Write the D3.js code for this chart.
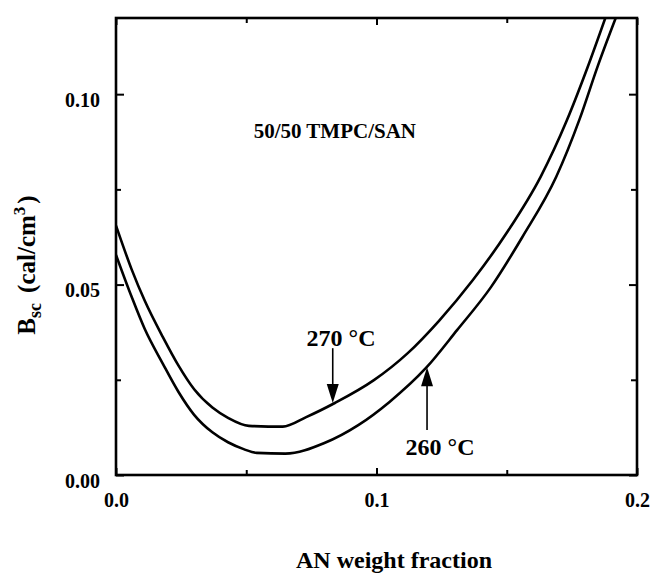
<!DOCTYPE html>
<html>
<head>
<meta charset="utf-8">
<script src="https://cdn.jsdelivr.net/npm/d3@7"></script>
<style>
    body { margin: 0; background: #fff; }
    text { font-family: "Liberation Serif", "Times New Roman", serif; font-weight: bold; fill: #000; }
</style>
</head>
<body>
<svg id="chart"></svg>
<script>
// AN weight fraction vs B_sc
var anFraction270 = [0, 0.006, 0.011, 0.018, 0.024, 0.030, 0.037, 0.043, 0.051, 0.064, 0.073, 0.084, 0.099, 0.112, 0.124, 0.137, 0.150, 0.163, 0.173, 0.181, 0.188]
var bsc270 = [0.0655, 0.0540, 0.0458, 0.0362, 0.0287, 0.0225, 0.0177, 0.0150, 0.0129, 0.0127, 0.0152, 0.0189, 0.0249, 0.0320, 0.0405, 0.0512, 0.0636, 0.0783, 0.0930, 0.1070, 0.1203]

var anFraction260 = [0, 0.006, 0.011, 0.018, 0.024, 0.030, 0.037, 0.043, 0.049, 0.054, 0.065, 0.080, 0.093, 0.105, 0.119, 0.131, 0.144, 0.156, 0.169, 0.178, 0.185, 0.192]
var bsc260 = [0.0578, 0.0468, 0.0384, 0.0292, 0.0218, 0.0158, 0.0112, 0.0086, 0.0068, 0.0058, 0.0056, 0.0084, 0.0131, 0.0192, 0.0281, 0.0381, 0.0494, 0.0625, 0.0783, 0.0935, 0.1075, 0.1203]

var xTicks = [0, 0.1, 0.2]
var xMinorTicks = [0.05, 0.15]
var yTicks = [0, 0.05, 0.10]
var yMinorTicks = [0.025, 0.075]

var svg = d3.select("#chart")

var dimensions = {
    width: 655,
    height: 573,
    margin: {
        top: 18,
        bottom: 98,
        left: 116,
        right: 18
    }
}

svg.attr("width", dimensions.width)
   .attr("height", dimensions.height)

var xScale = d3.scaleLinear()
               .domain([0, 0.2])
               .range([dimensions.margin.left, dimensions.width - dimensions.margin.right])
var yScale = d3.scaleLinear()
               .domain([0, 0.12])
               .range([dimensions.height - dimensions.margin.bottom, dimensions.margin.top])

var x0 = xScale(0), x1 = xScale(0.2), y0 = yScale(0), y1 = yScale(0.12)

svg.append("clipPath")
   .attr("id", "plot-clip")
   .append("rect")
   .attr("x", x0).attr("y", y1)
   .attr("width", x1 - x0).attr("height", y0 - y1)

var lineGen = d3.line()
                .x(d => xScale(d[0]))
                .y(d => yScale(d[1]))
                .curve(d3.curveMonotoneX)

var series = [
    d3.zip(anFraction270, bsc270),
    d3.zip(anFraction260, bsc260)
]

svg.append("g")
   .attr("clip-path", "url(#plot-clip)")
   .selectAll("path")
   .data(series)
   .enter()
   .append("path")
   .attr("d", lineGen)
   .attr("fill", "none")
   .attr("stroke", "#000")
   .attr("stroke-width", 2.6)

// axes, ticks pointing inward on all four sides
var xAxisBottom = svg.append("g")
                     .attr("transform", `translate(0, ${y0})`)
                     .call(d3.axisBottom(xScale).tickValues(xTicks).tickSize(-7).tickPadding(22).tickFormat(d3.format(".1f")))
var xAxisTop = svg.append("g")
                  .attr("transform", `translate(0, ${y1})`)
                  .call(d3.axisTop(xScale).tickValues(xTicks).tickSize(-7).tickFormat(""))
var yAxisLeft = svg.append("g")
                   .attr("transform", `translate(${x0}, 0)`)
                   .call(d3.axisLeft(yScale).tickValues(yTicks).tickSize(-8).tickPadding(16).tickFormat(d3.format(".2f")))
var yAxisRight = svg.append("g")
                    .attr("transform", `translate(${x1}, 0)`)
                    .call(d3.axisRight(yScale).tickValues(yTicks).tickSize(-8).tickFormat(""))

svg.append("g").attr("transform", `translate(0, ${y0})`)
   .call(d3.axisBottom(xScale).tickValues(xMinorTicks).tickSize(-5).tickFormat(""))
svg.append("g").attr("transform", `translate(0, ${y1})`)
   .call(d3.axisTop(xScale).tickValues(xMinorTicks).tickSize(-5).tickFormat(""))
svg.append("g").attr("transform", `translate(${x0}, 0)`)
   .call(d3.axisLeft(yScale).tickValues(yMinorTicks).tickSize(-5).tickFormat(""))
svg.append("g").attr("transform", `translate(${x1}, 0)`)
   .call(d3.axisRight(yScale).tickValues(yMinorTicks).tickSize(-6).tickFormat(""))

svg.selectAll(".domain").remove()
svg.selectAll(".tick line").attr("stroke", "#000").attr("stroke-width", 2)
svg.selectAll(".tick text")
   .attr("font-family", "Liberation Serif, serif")
   .attr("font-weight", "bold")
   .attr("font-size", 20)

yAxisLeft.selectAll(".tick text").attr("dy", "0.62em")
xAxisBottom.selectAll(".tick text").attr("dy", "0.5em")

svg.append("rect")
   .attr("x", x0).attr("y", y1)
   .attr("width", x1 - x0).attr("height", y0 - y1)
   .attr("fill", "none")
   .attr("stroke", "#000")
   .attr("stroke-width", 2.6)

// axis titles
svg.append("text")
   .attr("text-anchor", "middle")
   .attr("font-size", 24)
   .attr("x", 394)
   .attr("y", 568)
   .text("AN weight fraction")

var yTitle = svg.append("text")
                .attr("text-anchor", "middle")
                .attr("font-size", 25)
                .attr("transform", "translate(35, 265) rotate(-90)")
yTitle.append("tspan").text("B")
yTitle.append("tspan").attr("font-size", 18).attr("dy", 6).text("sc")
yTitle.append("tspan").attr("dy", -6).attr("dx", 10).text("(cal/cm")
yTitle.append("tspan").attr("font-size", 17).attr("dy", -10).text("3")
yTitle.append("tspan").attr("dy", 10).attr("dx", 3).text(")")

// annotations
svg.append("text")
   .attr("text-anchor", "middle")
   .attr("font-size", 21)
   .attr("x", xScale(0.084))
   .attr("y", yScale(0.0885))
   .text("50/50 TMPC/SAN")

var arrows = [
    {label: "270 °C", x: 0.0832, tip: 0.0189, tail: 0.0333, lx: 0.0864, ly: 0.0339},
    {label: "260 °C", x: 0.1194, tip: 0.0283, tail: 0.0118, lx: 0.1244, ly: 0.0053}
]

arrows.forEach(a => {
    var xp = xScale(a.x), tipY = yScale(a.tip), tailY = yScale(a.tail)
    var dir = tailY < tipY ? 1 : -1
    svg.append("line")
       .attr("x1", xp).attr("x2", xp)
       .attr("y1", tailY).attr("y2", tipY - dir * 10)
       .attr("stroke", "#000")
       .attr("stroke-width", 1.6)
    svg.append("path")
       .attr("d", `M${xp},${tipY} L${xp - 6},${tipY - dir * 19} L${xp + 6},${tipY - dir * 19} Z`)
       .attr("fill", "#000")
    svg.append("text")
       .attr("text-anchor", "middle")
       .attr("font-size", 24)
       .attr("x", xScale(a.lx))
       .attr("y", yScale(a.ly))
       .text(a.label)
})
</script>
</body>
</html>
